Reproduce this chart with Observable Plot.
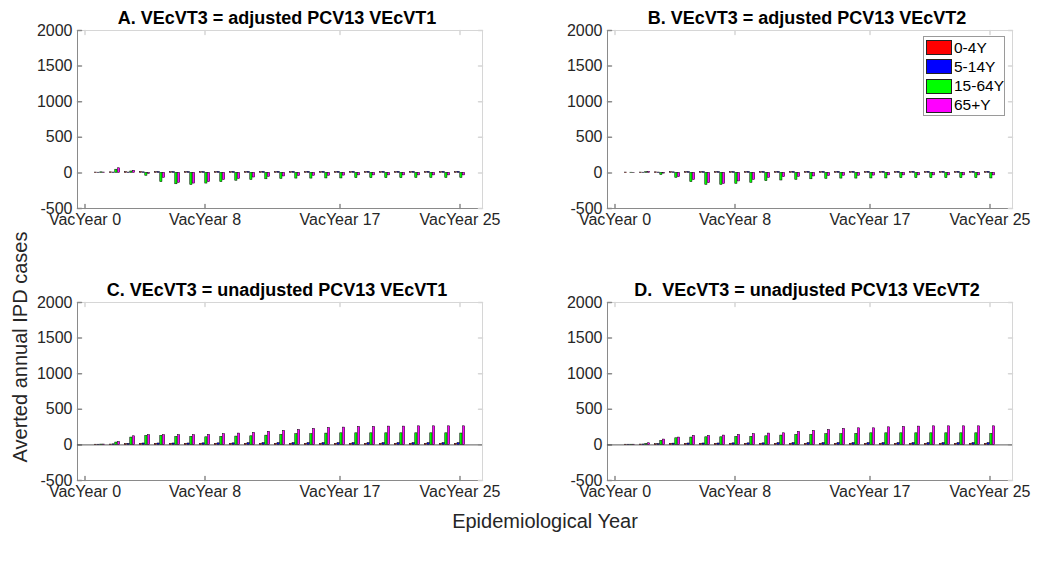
<!DOCTYPE html>
<html>
<head>
<meta charset="utf-8">
<script src="https://cdn.jsdelivr.net/npm/d3@7"></script>
<script src="https://cdn.jsdelivr.net/npm/@observablehq/plot@0.6"></script>
<style>
  body { margin: 0; background: #fff; }
  #fig { position: relative; width: 1037px; height: 562px; overflow: hidden; background: #fff;
         font-family: "Liberation Sans", Arial, sans-serif; }
  .panel { position: absolute; }
  .title { position: absolute; font-weight: bold; font-size: 18px; white-space: pre; color: #000;
           transform: translateX(-50%); line-height: 1; }
  .ylab { position: absolute; left: 20px; top: 347px; font-size: 20px; color: #262626; white-space: nowrap;
          transform: translate(-50%, -50%) rotate(-90deg); }
  .xlab { position: absolute; left: 545px; top: 521px; font-size: 20px; color: #262626; white-space: nowrap;
          transform: translate(-50%, -50%); }
  .legend { position: absolute; left: 923px; top: 36px; width: 80px; height: 78px; background: #fff;
            border: 1px solid #9a9a9a; }
  .legend .row { position: absolute; left: 2px; height: 15px; display: flex; align-items: center; }
  .legend .sw { width: 24px; height: 13px; border: 0.5px solid #222; margin-right: 2px; }
  .legend .lbl { font-size: 15.5px; color: #000; }
</style>
</head>
<body>
<div id="fig"></div>
<script>
// Epidemiological years after vaccine introduction and the four age groups
const years = d3.range(0, 26);
const ageGroups = ["0-4Y", "5-14Y", "15-64Y", "65+Y"];
const groupColors = ["#ff0000", "#0000ff", "#00ff00", "#ff00ff"];
const xTicks = [0, 8, 17, 25];
const yTicks = [-500, 0, 500, 1000, 1500, 2000];

// A. VEcVT3 = adjusted PCV13 VEcVT1
const a04   = [0, 5, 8, 10, 12, 10, 10, 10, 10, 10, 10, 10, 10, 10, 10, 10, 10, 10, 10, 10, 10, 10, 10, 10, 10, 10];
const a514  = [0, 3, 5, 5, 8, 12, 12, 12, 12, 14, 14, 14, 15, 15, 15, 15, 15, 15, 15, 15, 15, 15, 15, 15, 15, 15];
const a1564 = [0, 8, 45, 20, -40, -130, -160, -170, -150, -130, -110, -100, -90, -85, -80, -80, -78, -78, -75, -75, -75, -75, -72, -72, -72, -72];
const a65   = [0, 5, 65, 30, -15, -70, -140, -150, -130, -100, -85, -65, -55, -50, -45, -40, -40, -38, -35, -35, -35, -35, -35, -35, -35, -35];

// B. VEcVT3 = adjusted PCV13 VEcVT2
const b04   = [0, 5, 5, 8, 10, 10, 10, 10, 10, 10, 10, 10, 10, 10, 10, 10, 10, 10, 10, 10, 10, 10, 10, 10, 10, 10];
const b514  = [0, 0, 3, 5, 8, 12, 12, 12, 12, 14, 14, 14, 15, 15, 15, 15, 15, 15, 15, 15, 15, 15, 15, 15, 15, 15];
const b1564 = [0, 3, 10, -30, -70, -130, -168, -168, -154, -140, -117, -107, -98, -90, -85, -80, -80, -78, -78, -75, -75, -75, -75, -75, -75, -78];
const b65   = [0, 2, 15, -10, -60, -100, -145, -155, -120, -98, -70, -60, -55, -50, -45, -40, -40, -38, -35, -35, -35, -35, -35, -35, -35, -35];

// C. VEcVT3 = unadjusted PCV13 VEcVT1
const c04   = [0, 3, 5, 12, 15, 15, 15, 15, 15, 15, 15, 15, 15, 15, 15, 15, 15, 15, 15, 15, 15, 15, 15, 15, 15, 15];
const c514  = [0, 3, 8, 15, 20, 20, 20, 20, 22, 22, 22, 24, 25, 25, 25, 25, 25, 25, 25, 25, 25, 25, 25, 25, 25, 25];
const c1564 = [0, 5, 33, 103, 126, 126, 112, 112, 107, 112, 117, 121, 130, 140, 150, 150, 159, 163, 163, 163, 163, 163, 163, 163, 163, 160];
const c65   = [0, 5, 40, 121, 136, 136, 136, 136, 140, 150, 159, 168, 184, 196, 210, 224, 238, 243, 252, 252, 257, 257, 261, 261, 261, 261];

// D. VEcVT3 = unadjusted PCV13 VEcVT2
const d04   = [0, 3, 5, 10, 15, 15, 15, 15, 15, 15, 15, 15, 15, 15, 15, 15, 15, 15, 15, 15, 15, 15, 15, 15, 15, 15];
const d514  = [0, 3, 6, 12, 18, 20, 20, 20, 22, 22, 22, 24, 25, 25, 25, 25, 25, 25, 25, 25, 25, 25, 25, 25, 25, 25];
const d1564 = [0, 3, 14, 56, 93, 103, 107, 107, 112, 112, 121, 131, 140, 140, 150, 150, 154, 163, 163, 163, 163, 163, 163, 163, 163, 154];
const d65   = [0, 3, 23, 75, 103, 126, 126, 131, 140, 150, 159, 163, 182, 196, 210, 224, 233, 233, 247, 252, 257, 261, 261, 261, 261, 261];

const panels = [
  {title: "A. VEcVT3 = adjusted PCV13 VEcVT1",   series: [a04, a514, a1564, a65], left: 0,   top: 0,   baseline: false},
  {title: "B. VEcVT3 = adjusted PCV13 VEcVT2",   series: [b04, b514, b1564, b65], left: 530, top: 0,   baseline: false},
  {title: "C. VEcVT3 = unadjusted PCV13 VEcVT1", series: [c04, c514, c1564, c65], left: 0,   top: 272, baseline: true},
  {title: "D.  VEcVT3 = unadjusted PCV13 VEcVT2", series: [d04, d514, d1564, d65], left: 530, top: 272, baseline: true}
];

const xDomain = [-0.5, 26.5];
const yDomain = [-500, 2000];
const axisDark = "#8a8a8a";
const axisLight = "#d6d6d6";

// short inward tick: a straight segment drawn from the anchor point
const tickShape = {draw(context, l) { context.moveTo(0, 0); context.lineTo(0, -l); }};

// grouped-bar geometry (4 bars per year, like a classic grouped bar chart)
const nG = ageGroups.length;
const groupWidth = Math.min(0.8, nG / (nG + 1.5));
const barWidth = 0.8 * groupWidth / nG;
const offset = gi => -groupWidth / 2 + (2 * gi + 1) * groupWidth / (2 * nG);

function drawPanel(p) {
  const rows = [];
  p.series.forEach((vals, gi) => vals.forEach((v, i) => rows.push({year: years[i], group: ageGroups[gi], gi, value: v})));

  const marks = [
    // box: dark left/bottom, light top/right
    Plot.ruleY([yDomain[1]], {stroke: axisLight, strokeWidth: 1}),
    Plot.ruleX([xDomain[1]], {stroke: axisLight, strokeWidth: 1}),
    Plot.ruleX([xDomain[0]], {stroke: axisDark, strokeWidth: 1}),
    Plot.ruleY([yDomain[0]], {stroke: axisDark, strokeWidth: 1}),
    // inward ticks on all four sides
    Plot.vector(xTicks, {x: d => d, frameAnchor: "bottom", rotate: 0, length: 4, anchor: "start", shape: tickShape, stroke: axisDark}),
    Plot.vector(xTicks, {x: d => d, frameAnchor: "top", rotate: 180, length: 4, anchor: "start", shape: tickShape, stroke: axisLight}),
    Plot.vector(yTicks, {y: d => d, frameAnchor: "left", rotate: 90, length: 4, anchor: "start", shape: tickShape, stroke: axisDark}),
    Plot.vector(yTicks, {y: d => d, frameAnchor: "right", rotate: -90, length: 4, anchor: "start", shape: tickShape, stroke: axisLight})
  ];
  if (p.baseline) marks.push(Plot.ruleY([0], {stroke: "#333", strokeWidth: 0.8}));
  marks.push(Plot.rect(rows, {
    x1: d => d.year + offset(d.gi) - barWidth / 2,
    x2: d => d.year + offset(d.gi) + barWidth / 2,
    y1: 0,
    y2: "value",
    fill: "group",
    stroke: "#000",
    strokeWidth: 0.5
  }));

  const svg = Plot.plot({
    width: 500,
    height: 232,
    marginLeft: 77,
    marginRight: 18,
    marginTop: 30,
    marginBottom: 24,
    style: {fontFamily: "'Liberation Sans', Arial, sans-serif", fontSize: "16px", color: "#262626", background: "transparent", overflow: "visible"},
    x: {domain: xDomain, ticks: xTicks, tickFormat: d => `VacYear ${d}`, tickSize: 0, tickPadding: 5, label: null},
    y: {domain: yDomain, ticks: yTicks, tickFormat: d => String(d), tickSize: 0, tickPadding: 5, label: null},
    color: {domain: ageGroups, range: groupColors},
    marks
  });
  svg.classList.add("panel");
  svg.style.left = p.left + "px";
  svg.style.top = p.top + "px";
  return svg;
}

const fig = document.getElementById("fig");
panels.forEach(p => {
  fig.appendChild(drawPanel(p));
  const t = document.createElement("div");
  t.className = "title";
  t.textContent = p.title;
  t.style.left = (p.left + 77 + 200) + "px";
  t.style.top = (p.top + 9) + "px";
  fig.appendChild(t);
});

const yl = document.createElement("div");
yl.className = "ylab";
yl.textContent = "Averted annual IPD cases";
fig.appendChild(yl);

const xl = document.createElement("div");
xl.className = "xlab";
xl.textContent = "Epidemiological Year";
fig.appendChild(xl);

// legend for the four age groups
const lg = document.createElement("div");
lg.className = "legend";
ageGroups.forEach((g, i) => {
  const row = document.createElement("div");
  row.className = "row";
  row.style.top = (3 + i * 19.3) + "px";
  const sw = document.createElement("div");
  sw.className = "sw";
  sw.style.background = groupColors[i];
  const lb = document.createElement("span");
  lb.className = "lbl";
  lb.textContent = g;
  row.appendChild(sw);
  row.appendChild(lb);
  lg.appendChild(row);
});
fig.appendChild(lg);
</script>
</body>
</html>
